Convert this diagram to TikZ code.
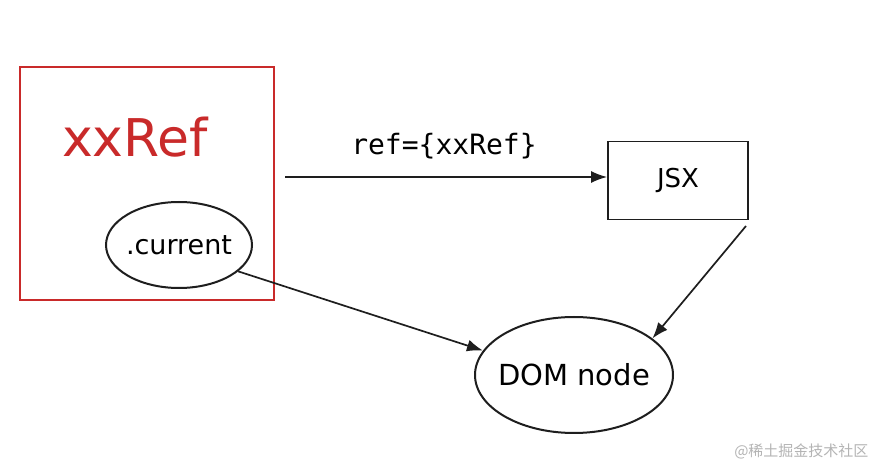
\documentclass[tikz,border=0pt]{standalone}
\usepackage{fontspec}
\setmainfont{DejaVu Sans}
\setmonofont{DejaVu Sans Mono}
\newfontfamily\cjkfont{Noto Sans CJK SC}
\usetikzlibrary{shapes.geometric,arrows.meta,positioning}
\definecolor{refred}{HTML}{C92A2A}
\definecolor{inkblack}{HTML}{1E1E1E}
\definecolor{markgray}{HTML}{B4B4B4}

\begin{document}
\begin{tikzpicture}[
  x=1pt,y=-1pt,
  font=\fontsize{27}{32}\selectfont,
  holder/.style={draw=refred,line width=1.8pt,minimum width=254pt,minimum height=233pt,inner sep=0pt},
  blob/.style={ellipse,draw=inkblack,line width=2pt,inner ysep=0pt},
  plainbox/.style={draw=inkblack,line width=1.8pt,minimum width=140pt,minimum height=78pt,inner sep=0pt},
  arr/.style={-{Latex[length=16pt,width=12pt]},inkblack,line width=1.7pt}
]
\useasboundingbox[fill=white] (0,0) rectangle (887,462);
% ref object
\node[holder] (ref) at (147,183.5) {};
\node[text=refred,font=\fontsize{52}{56}\selectfont] (name) at (135,137) {xxRef};
\node[blob,inner xsep=-3pt,minimum width=146pt,minimum height=86pt] (cur) at (179,245) {.current};
% jsx element
\node[plainbox,font=\fontsize{26}{30}\selectfont] (jsx) at (678,180.5) {JSX};
\node[font=\ttfamily\fontsize{28}{32}\selectfont] (attr) at (444,146) {ref=\{xxRef\}};
% dom
\node[blob,inner xsep=-6pt,minimum width=198pt,minimum height=116pt,font=\fontsize{29}{34}\selectfont] (dom) at (574,375) {DOM node};
% watermark
\node[text=markgray,font=\cjkfont\fontsize{15}{18}\selectfont,anchor=east] (mark) at (872,451) {@稀土掘金技术社区};

\coordinate (src) at (285,177);
\coordinate (jsxfoot) at (746,226);
\draw[arr] (src) -- (jsx.west|-src);
\draw[arr] (jsxfoot) -- (dom.25);
\draw[arr] (cur.-24) -- (dom.165);
\end{tikzpicture}
\end{document}
